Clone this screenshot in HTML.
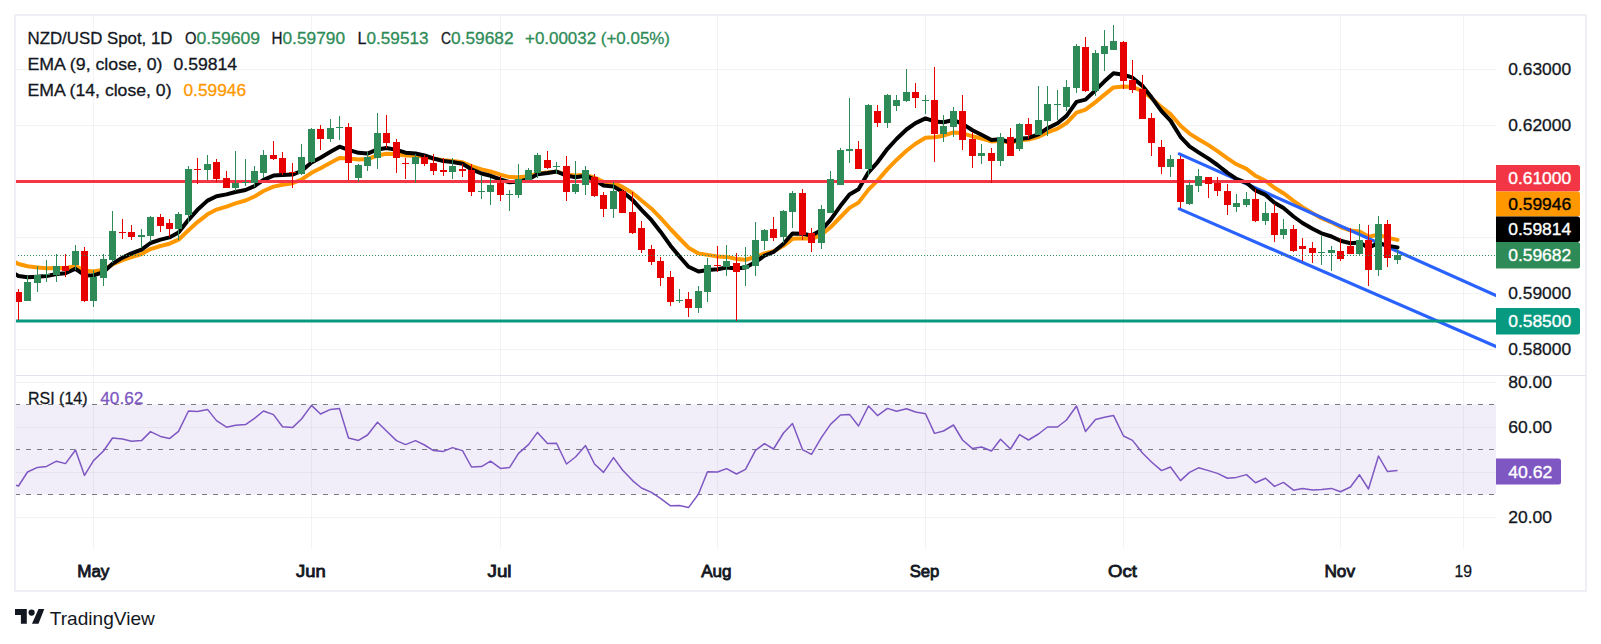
<!DOCTYPE html>
<html><head><meta charset="utf-8"><title>NZD/USD chart</title>
<style>html,body{margin:0;padding:0;background:#fff}svg{display:block}</style>
</head><body>
<svg width="1601" height="644" viewBox="0 0 1601 644" font-family="'Liberation Sans', sans-serif" shape-rendering="auto">
<rect width="1601" height="644" fill="#fff"/>
<rect x="93.0" y="16" width="1" height="533" fill="#2a2e39" fill-opacity="0.06"/>
<rect x="311.0" y="16" width="1" height="533" fill="#2a2e39" fill-opacity="0.06"/>
<rect x="500.0" y="16" width="1" height="533" fill="#2a2e39" fill-opacity="0.06"/>
<rect x="717.0" y="16" width="1" height="533" fill="#2a2e39" fill-opacity="0.06"/>
<rect x="925.0" y="16" width="1" height="533" fill="#2a2e39" fill-opacity="0.06"/>
<rect x="1123.0" y="16" width="1" height="533" fill="#2a2e39" fill-opacity="0.06"/>
<rect x="1340.0" y="16" width="1" height="533" fill="#2a2e39" fill-opacity="0.06"/>
<rect x="1463.0" y="16" width="1" height="533" fill="#2a2e39" fill-opacity="0.06"/>
<rect x="16" y="69" width="1480" height="1" fill="#2a2e39" fill-opacity="0.06"/>
<rect x="16" y="125" width="1480" height="1" fill="#2a2e39" fill-opacity="0.06"/>
<rect x="16" y="181" width="1480" height="1" fill="#2a2e39" fill-opacity="0.06"/>
<rect x="16" y="237" width="1480" height="1" fill="#2a2e39" fill-opacity="0.06"/>
<rect x="16" y="293" width="1480" height="1" fill="#2a2e39" fill-opacity="0.06"/>
<rect x="16" y="349" width="1480" height="1" fill="#2a2e39" fill-opacity="0.06"/>
<rect x="16" y="382" width="1480" height="1" fill="#2a2e39" fill-opacity="0.06"/>
<rect x="16" y="427" width="1480" height="1" fill="#2a2e39" fill-opacity="0.06"/>
<rect x="16" y="472" width="1480" height="1" fill="#2a2e39" fill-opacity="0.06"/>
<rect x="16" y="517" width="1480" height="1" fill="#2a2e39" fill-opacity="0.06"/>
<rect x="16" y="404.5" width="1480" height="90" fill="#7e57c2" fill-opacity="0.1"/>
<path d="M15 404.5H1496" stroke="#787b86" stroke-width="1" stroke-dasharray="5 6" fill="none"/>
<path d="M15 449.5H1496" stroke="#787b86" stroke-width="1" stroke-dasharray="5 6" fill="none"/>
<path d="M15 494.5H1496" stroke="#787b86" stroke-width="1" stroke-dasharray="5 6" fill="none"/>
<clipPath id="cm"><rect x="16" y="16" width="1480" height="359"/></clipPath>
<clipPath id="cr"><rect x="16" y="376" width="1480" height="173"/></clipPath>
<g clip-path="url(#cm)" fill="none" stroke-linejoin="round" stroke-linecap="round">
<path d="M8.5 258.5 L18.5 264.0 L27.5 266.3 L37.5 267.4 L46.5 268.3 L56.5 267.9 L65.5 268.3 L75.5 265.9 L84.5 270.6 L93.5 271.4 L103.5 269.7 L112.5 264.5 L122.5 260.2 L131.5 257.1 L141.5 254.1 L150.5 249.1 L160.5 246.0 L169.5 243.7 L178.5 239.7 L188.5 230.2 L197.5 222.1 L207.5 214.3 L216.5 209.6 L226.5 206.6 L235.5 203.4 L245.5 200.5 L254.5 196.5 L263.5 191.0 L273.5 186.6 L282.5 184.8 L292.5 183.2 L301.5 179.6 L311.5 172.8 L320.5 168.2 L330.5 162.8 L339.5 158.0 L348.5 158.6 L358.5 159.4 L367.5 159.0 L377.5 155.5 L386.5 153.8 L396.5 154.3 L405.5 155.5 L415.5 155.7 L424.5 156.8 L433.5 158.6 L443.5 160.3 L452.5 161.0 L462.5 162.3 L471.5 166.2 L481.5 169.4 L490.5 171.5 L500.5 174.6 L509.5 177.1 L518.5 177.3 L528.5 176.3 L537.5 173.4 L547.5 172.6 L556.5 171.7 L566.5 174.4 L575.5 175.6 L585.5 174.8 L594.5 177.6 L603.5 181.7 L613.5 182.9 L622.5 186.9 L632.5 193.0 L641.5 200.5 L651.5 208.7 L660.5 217.9 L670.5 229.0 L679.5 238.5 L688.5 247.7 L698.5 253.4 L707.5 254.9 L717.5 256.4 L726.5 256.9 L736.5 258.9 L745.5 259.7 L755.5 257.0 L764.5 253.4 L773.5 251.3 L783.5 245.8 L792.5 238.8 L802.5 238.2 L811.5 238.8 L821.5 234.8 L830.5 227.3 L840.5 217.0 L849.5 207.9 L858.5 202.6 L868.5 189.6 L877.5 180.6 L887.5 169.1 L896.5 159.9 L906.5 150.8 L915.5 143.7 L925.5 137.8 L934.5 137.2 L943.5 135.7 L953.5 132.4 L962.5 133.3 L972.5 136.3 L981.5 138.5 L991.5 141.4 L1000.5 140.8 L1010.5 142.8 L1019.5 140.2 L1028.5 139.5 L1038.5 136.8 L1047.5 132.4 L1057.5 128.6 L1066.5 123.0 L1076.5 112.7 L1085.5 109.7 L1095.5 102.1 L1104.5 94.6 L1113.5 87.4 L1123.5 86.5 L1132.5 86.9 L1142.5 91.2 L1151.5 98.0 L1161.5 107.2 L1170.5 114.1 L1180.5 125.7 L1189.5 133.6 L1198.5 139.2 L1208.5 145.1 L1217.5 151.2 L1227.5 158.3 L1236.5 164.3 L1246.5 168.9 L1255.5 175.8 L1265.5 180.7 L1274.5 187.8 L1283.5 193.2 L1293.5 200.8 L1302.5 207.2 L1312.5 213.1 L1321.5 218.2 L1331.5 222.3 L1340.5 227.1 L1350.5 230.5 L1359.5 231.6 L1368.5 236.6 L1378.5 234.8 L1387.5 237.7 L1397.5 239.9" stroke="#ff9800" stroke-width="4"/>
<path d="M1179.3 153.9L1497 295.9" stroke="#2962ff" stroke-width="3.2"/>
<path d="M1179.3 208.9L1497 346.9" stroke="#2962ff" stroke-width="3.2"/>
<path d="M8.5 270.0 L18.5 276.0 L27.5 277.2 L37.5 276.7 L46.5 276.1 L56.5 274.0 L65.5 273.3 L75.5 268.8 L84.5 275.2 L93.5 275.4 L103.5 272.1 L112.5 263.8 L122.5 257.6 L131.5 253.4 L141.5 249.6 L150.5 243.0 L160.5 239.6 L169.5 237.4 L178.5 232.6 L188.5 219.8 L197.5 209.8 L207.5 200.6 L216.5 196.2 L226.5 194.4 L235.5 192.0 L245.5 190.0 L254.5 186.1 L263.5 179.8 L273.5 175.6 L282.5 175.0 L292.5 174.6 L301.5 171.0 L311.5 162.5 L320.5 157.7 L330.5 151.7 L339.5 146.7 L348.5 149.8 L358.5 152.8 L367.5 153.6 L377.5 149.4 L386.5 148.0 L396.5 149.9 L405.5 152.7 L415.5 153.5 L424.5 155.5 L433.5 158.5 L443.5 161.1 L452.5 162.0 L462.5 163.7 L471.5 169.3 L481.5 173.5 L490.5 175.8 L500.5 179.5 L509.5 182.3 L518.5 181.6 L528.5 179.2 L537.5 174.3 L547.5 173.0 L556.5 171.5 L566.5 175.6 L575.5 177.2 L585.5 175.7 L594.5 179.7 L603.5 185.5 L613.5 186.5 L622.5 191.7 L632.5 199.9 L641.5 209.8 L651.5 220.2 L660.5 231.7 L670.5 245.7 L679.5 256.5 L688.5 266.7 L698.5 271.5 L707.5 270.1 L717.5 269.2 L726.5 267.5 L736.5 268.4 L745.5 267.6 L755.5 262.0 L764.5 255.6 L773.5 252.0 L783.5 243.7 L792.5 233.5 L802.5 233.7 L811.5 235.5 L821.5 230.1 L830.5 219.9 L840.5 205.8 L849.5 194.4 L858.5 189.3 L868.5 172.3 L877.5 162.3 L887.5 148.8 L896.5 139.0 L906.5 129.5 L915.5 123.1 L925.5 118.4 L934.5 121.4 L943.5 122.3 L953.5 120.0 L962.5 123.9 L972.5 130.2 L981.5 134.7 L991.5 139.9 L1000.5 139.3 L1010.5 142.5 L1019.5 138.8 L1028.5 137.9 L1038.5 134.3 L1047.5 128.2 L1057.5 123.3 L1066.5 115.9 L1076.5 101.9 L1085.5 99.6 L1095.5 90.2 L1104.5 81.3 L1113.5 73.2 L1123.5 74.7 L1132.5 77.7 L1142.5 85.9 L1151.5 97.3 L1161.5 111.1 L1170.5 120.6 L1180.5 136.8 L1189.5 146.4 L1198.5 152.3 L1208.5 158.6 L1217.5 165.0 L1227.5 172.9 L1236.5 178.9 L1246.5 182.8 L1255.5 190.4 L1265.5 194.9 L1274.5 202.8 L1283.5 208.0 L1293.5 216.5 L1302.5 223.0 L1312.5 228.8 L1321.5 233.3 L1331.5 236.5 L1340.5 240.8 L1350.5 243.3 L1359.5 242.5 L1368.5 247.8 L1378.5 242.9 L1387.5 245.7 L1397.5 247.4" stroke="#000" stroke-width="4"/>
</g>
<rect x="16" y="180" width="1480" height="3" fill="#f23645"/>
<rect x="16" y="319.5" width="1480" height="3" fill="#089981"/>
<g clip-path="url(#cm)" shape-rendering="crispEdges">
<rect x="18" y="289" width="1" height="31" fill="#e60000"/>
<rect x="15" y="292" width="7" height="10" fill="#e60000"/>
<rect x="27" y="276" width="1" height="25" fill="#2e8b57"/>
<rect x="24" y="282" width="7" height="19" fill="#2e8b57"/>
<rect x="37" y="266" width="1" height="26" fill="#2e8b57"/>
<rect x="34" y="275" width="7" height="8" fill="#2e8b57"/>
<rect x="46" y="260" width="1" height="22" fill="#2e8b57"/>
<rect x="43" y="274" width="7" height="1" fill="#2e8b57"/>
<rect x="56" y="254" width="1" height="28" fill="#2e8b57"/>
<rect x="53" y="266" width="7" height="9" fill="#2e8b57"/>
<rect x="65" y="254" width="1" height="23" fill="#e60000"/>
<rect x="62" y="266" width="7" height="5" fill="#e60000"/>
<rect x="75" y="245" width="1" height="25" fill="#2e8b57"/>
<rect x="72" y="251" width="7" height="14" fill="#2e8b57"/>
<rect x="84" y="247" width="1" height="55" fill="#e60000"/>
<rect x="81" y="251" width="7" height="50" fill="#e60000"/>
<rect x="93" y="270" width="1" height="37" fill="#2e8b57"/>
<rect x="90" y="277" width="7" height="24" fill="#2e8b57"/>
<rect x="103" y="254" width="1" height="32" fill="#2e8b57"/>
<rect x="100" y="259" width="7" height="19" fill="#2e8b57"/>
<rect x="112" y="211" width="1" height="52" fill="#2e8b57"/>
<rect x="109" y="231" width="7" height="29" fill="#2e8b57"/>
<rect x="122" y="219" width="1" height="20" fill="#e60000"/>
<rect x="119" y="232" width="7" height="1" fill="#e60000"/>
<rect x="131" y="225" width="1" height="15" fill="#e60000"/>
<rect x="128" y="232" width="7" height="5" fill="#e60000"/>
<rect x="141" y="229" width="1" height="19" fill="#2e8b57"/>
<rect x="138" y="235" width="7" height="2" fill="#2e8b57"/>
<rect x="150" y="216" width="1" height="26" fill="#2e8b57"/>
<rect x="147" y="217" width="7" height="19" fill="#2e8b57"/>
<rect x="160" y="214" width="1" height="18" fill="#e60000"/>
<rect x="157" y="217" width="7" height="9" fill="#e60000"/>
<rect x="169" y="219" width="1" height="18" fill="#e60000"/>
<rect x="166" y="223" width="7" height="6" fill="#e60000"/>
<rect x="178" y="212" width="1" height="28" fill="#2e8b57"/>
<rect x="175" y="214" width="7" height="15" fill="#2e8b57"/>
<rect x="188" y="166" width="1" height="57" fill="#2e8b57"/>
<rect x="185" y="169" width="7" height="46" fill="#2e8b57"/>
<rect x="197" y="158" width="1" height="26" fill="#e60000"/>
<rect x="194" y="169" width="7" height="1" fill="#e60000"/>
<rect x="207" y="155" width="1" height="25" fill="#2e8b57"/>
<rect x="204" y="164" width="7" height="6" fill="#2e8b57"/>
<rect x="216" y="159" width="1" height="23" fill="#e60000"/>
<rect x="213" y="162" width="7" height="17" fill="#e60000"/>
<rect x="226" y="171" width="1" height="17" fill="#e60000"/>
<rect x="223" y="178" width="7" height="10" fill="#e60000"/>
<rect x="235" y="151" width="1" height="40" fill="#2e8b57"/>
<rect x="232" y="183" width="7" height="5" fill="#2e8b57"/>
<rect x="245" y="159" width="1" height="27" fill="#2e8b57"/>
<rect x="242" y="182" width="7" height="1" fill="#2e8b57"/>
<rect x="254" y="166" width="1" height="21" fill="#2e8b57"/>
<rect x="251" y="171" width="7" height="12" fill="#2e8b57"/>
<rect x="263" y="150" width="1" height="28" fill="#2e8b57"/>
<rect x="260" y="155" width="7" height="18" fill="#2e8b57"/>
<rect x="273" y="141" width="1" height="19" fill="#e60000"/>
<rect x="270" y="155" width="7" height="4" fill="#e60000"/>
<rect x="282" y="152" width="1" height="23" fill="#e60000"/>
<rect x="279" y="158" width="7" height="15" fill="#e60000"/>
<rect x="292" y="163" width="1" height="25" fill="#e60000"/>
<rect x="289" y="172" width="7" height="1" fill="#e60000"/>
<rect x="301" y="144" width="1" height="31" fill="#2e8b57"/>
<rect x="298" y="157" width="7" height="17" fill="#2e8b57"/>
<rect x="311" y="128" width="1" height="35" fill="#2e8b57"/>
<rect x="308" y="129" width="7" height="33" fill="#2e8b57"/>
<rect x="320" y="125" width="1" height="25" fill="#e60000"/>
<rect x="317" y="129" width="7" height="10" fill="#e60000"/>
<rect x="330" y="119" width="1" height="23" fill="#2e8b57"/>
<rect x="327" y="128" width="7" height="11" fill="#2e8b57"/>
<rect x="339" y="116" width="1" height="24" fill="#2e8b57"/>
<rect x="336" y="127" width="7" height="1" fill="#2e8b57"/>
<rect x="348" y="123" width="1" height="57" fill="#e60000"/>
<rect x="345" y="127" width="7" height="36" fill="#e60000"/>
<rect x="358" y="164" width="1" height="18" fill="#2e8b57"/>
<rect x="355" y="165" width="7" height="13" fill="#2e8b57"/>
<rect x="367" y="152" width="1" height="19" fill="#2e8b57"/>
<rect x="364" y="157" width="7" height="9" fill="#2e8b57"/>
<rect x="377" y="113" width="1" height="56" fill="#2e8b57"/>
<rect x="374" y="133" width="7" height="25" fill="#2e8b57"/>
<rect x="386" y="115" width="1" height="33" fill="#e60000"/>
<rect x="383" y="133" width="7" height="10" fill="#e60000"/>
<rect x="396" y="139" width="1" height="34" fill="#e60000"/>
<rect x="393" y="142" width="7" height="16" fill="#e60000"/>
<rect x="405" y="158" width="1" height="21" fill="#e60000"/>
<rect x="402" y="163" width="7" height="1" fill="#e60000"/>
<rect x="415" y="154" width="1" height="29" fill="#2e8b57"/>
<rect x="412" y="157" width="7" height="7" fill="#2e8b57"/>
<rect x="424" y="155" width="1" height="11" fill="#e60000"/>
<rect x="421" y="157" width="7" height="7" fill="#e60000"/>
<rect x="433" y="154" width="1" height="21" fill="#e60000"/>
<rect x="430" y="163" width="7" height="8" fill="#e60000"/>
<rect x="443" y="158" width="1" height="18" fill="#e60000"/>
<rect x="440" y="170" width="7" height="2" fill="#e60000"/>
<rect x="452" y="158" width="1" height="21" fill="#2e8b57"/>
<rect x="449" y="166" width="7" height="6" fill="#2e8b57"/>
<rect x="462" y="164" width="1" height="13" fill="#e60000"/>
<rect x="459" y="169" width="7" height="2" fill="#e60000"/>
<rect x="471" y="164" width="1" height="32" fill="#e60000"/>
<rect x="468" y="170" width="7" height="22" fill="#e60000"/>
<rect x="481" y="176" width="1" height="23" fill="#2e8b57"/>
<rect x="478" y="191" width="7" height="1" fill="#2e8b57"/>
<rect x="490" y="178" width="1" height="27" fill="#2e8b57"/>
<rect x="487" y="185" width="7" height="7" fill="#2e8b57"/>
<rect x="500" y="176" width="1" height="25" fill="#e60000"/>
<rect x="497" y="183" width="7" height="12" fill="#e60000"/>
<rect x="509" y="190" width="1" height="21" fill="#2e8b57"/>
<rect x="506" y="194" width="7" height="1" fill="#2e8b57"/>
<rect x="518" y="164" width="1" height="34" fill="#2e8b57"/>
<rect x="515" y="179" width="7" height="16" fill="#2e8b57"/>
<rect x="528" y="168" width="1" height="12" fill="#2e8b57"/>
<rect x="525" y="170" width="7" height="10" fill="#2e8b57"/>
<rect x="537" y="153" width="1" height="25" fill="#2e8b57"/>
<rect x="534" y="155" width="7" height="18" fill="#2e8b57"/>
<rect x="547" y="151" width="1" height="18" fill="#e60000"/>
<rect x="544" y="160" width="7" height="8" fill="#e60000"/>
<rect x="556" y="162" width="1" height="12" fill="#2e8b57"/>
<rect x="553" y="166" width="7" height="1" fill="#2e8b57"/>
<rect x="566" y="156" width="1" height="45" fill="#e60000"/>
<rect x="563" y="166" width="7" height="26" fill="#e60000"/>
<rect x="575" y="161" width="1" height="33" fill="#2e8b57"/>
<rect x="572" y="184" width="7" height="8" fill="#2e8b57"/>
<rect x="585" y="166" width="1" height="29" fill="#2e8b57"/>
<rect x="582" y="170" width="7" height="15" fill="#2e8b57"/>
<rect x="594" y="174" width="1" height="23" fill="#e60000"/>
<rect x="591" y="177" width="7" height="19" fill="#e60000"/>
<rect x="603" y="192" width="1" height="25" fill="#e60000"/>
<rect x="600" y="195" width="7" height="14" fill="#e60000"/>
<rect x="613" y="182" width="1" height="36" fill="#2e8b57"/>
<rect x="610" y="191" width="7" height="18" fill="#2e8b57"/>
<rect x="622" y="189" width="1" height="24" fill="#e60000"/>
<rect x="619" y="191" width="7" height="22" fill="#e60000"/>
<rect x="632" y="192" width="1" height="42" fill="#e60000"/>
<rect x="629" y="212" width="7" height="21" fill="#e60000"/>
<rect x="641" y="221" width="1" height="32" fill="#e60000"/>
<rect x="638" y="228" width="7" height="22" fill="#e60000"/>
<rect x="651" y="245" width="1" height="20" fill="#e60000"/>
<rect x="648" y="249" width="7" height="13" fill="#e60000"/>
<rect x="660" y="257" width="1" height="29" fill="#e60000"/>
<rect x="657" y="261" width="7" height="17" fill="#e60000"/>
<rect x="670" y="271" width="1" height="35" fill="#e60000"/>
<rect x="667" y="277" width="7" height="25" fill="#e60000"/>
<rect x="679" y="289" width="1" height="14" fill="#2e8b57"/>
<rect x="676" y="300" width="7" height="1" fill="#2e8b57"/>
<rect x="688" y="292" width="1" height="25" fill="#e60000"/>
<rect x="685" y="299" width="7" height="9" fill="#e60000"/>
<rect x="698" y="286" width="1" height="27" fill="#2e8b57"/>
<rect x="695" y="291" width="7" height="17" fill="#2e8b57"/>
<rect x="707" y="258" width="1" height="44" fill="#2e8b57"/>
<rect x="704" y="265" width="7" height="27" fill="#2e8b57"/>
<rect x="717" y="246" width="1" height="26" fill="#e60000"/>
<rect x="714" y="265" width="7" height="1" fill="#e60000"/>
<rect x="726" y="245" width="1" height="31" fill="#2e8b57"/>
<rect x="723" y="261" width="7" height="6" fill="#2e8b57"/>
<rect x="736" y="253" width="1" height="68" fill="#e60000"/>
<rect x="733" y="263" width="7" height="9" fill="#e60000"/>
<rect x="745" y="247" width="1" height="39" fill="#2e8b57"/>
<rect x="742" y="265" width="7" height="4" fill="#2e8b57"/>
<rect x="755" y="222" width="1" height="54" fill="#2e8b57"/>
<rect x="752" y="240" width="7" height="26" fill="#2e8b57"/>
<rect x="764" y="229" width="1" height="21" fill="#2e8b57"/>
<rect x="761" y="230" width="7" height="11" fill="#2e8b57"/>
<rect x="773" y="217" width="1" height="24" fill="#e60000"/>
<rect x="770" y="229" width="7" height="9" fill="#e60000"/>
<rect x="783" y="210" width="1" height="33" fill="#2e8b57"/>
<rect x="780" y="211" width="7" height="26" fill="#2e8b57"/>
<rect x="792" y="191" width="1" height="37" fill="#2e8b57"/>
<rect x="789" y="193" width="7" height="19" fill="#2e8b57"/>
<rect x="802" y="189" width="1" height="51" fill="#e60000"/>
<rect x="799" y="193" width="7" height="42" fill="#e60000"/>
<rect x="811" y="228" width="1" height="24" fill="#e60000"/>
<rect x="808" y="233" width="7" height="10" fill="#e60000"/>
<rect x="821" y="205" width="1" height="44" fill="#2e8b57"/>
<rect x="818" y="209" width="7" height="34" fill="#2e8b57"/>
<rect x="830" y="171" width="1" height="42" fill="#2e8b57"/>
<rect x="827" y="179" width="7" height="34" fill="#2e8b57"/>
<rect x="840" y="148" width="1" height="37" fill="#2e8b57"/>
<rect x="837" y="150" width="7" height="35" fill="#2e8b57"/>
<rect x="849" y="98" width="1" height="65" fill="#2e8b57"/>
<rect x="846" y="149" width="7" height="2" fill="#2e8b57"/>
<rect x="858" y="141" width="1" height="28" fill="#e60000"/>
<rect x="855" y="149" width="7" height="20" fill="#e60000"/>
<rect x="868" y="104" width="1" height="72" fill="#2e8b57"/>
<rect x="865" y="105" width="7" height="64" fill="#2e8b57"/>
<rect x="877" y="105" width="1" height="22" fill="#e60000"/>
<rect x="874" y="111" width="7" height="12" fill="#e60000"/>
<rect x="887" y="94" width="1" height="34" fill="#2e8b57"/>
<rect x="884" y="95" width="7" height="28" fill="#2e8b57"/>
<rect x="896" y="95" width="1" height="16" fill="#2e8b57"/>
<rect x="893" y="100" width="7" height="6" fill="#2e8b57"/>
<rect x="906" y="69" width="1" height="33" fill="#2e8b57"/>
<rect x="903" y="92" width="7" height="9" fill="#2e8b57"/>
<rect x="915" y="83" width="1" height="25" fill="#e60000"/>
<rect x="912" y="92" width="7" height="6" fill="#e60000"/>
<rect x="925" y="95" width="1" height="19" fill="#2e8b57"/>
<rect x="922" y="100" width="7" height="1" fill="#2e8b57"/>
<rect x="934" y="67" width="1" height="95" fill="#e60000"/>
<rect x="931" y="100" width="7" height="34" fill="#e60000"/>
<rect x="943" y="115" width="1" height="27" fill="#2e8b57"/>
<rect x="940" y="126" width="7" height="8" fill="#2e8b57"/>
<rect x="953" y="107" width="1" height="30" fill="#2e8b57"/>
<rect x="950" y="111" width="7" height="16" fill="#2e8b57"/>
<rect x="962" y="95" width="1" height="55" fill="#e60000"/>
<rect x="959" y="111" width="7" height="29" fill="#e60000"/>
<rect x="972" y="132" width="1" height="36" fill="#e60000"/>
<rect x="969" y="139" width="7" height="17" fill="#e60000"/>
<rect x="981" y="144" width="1" height="20" fill="#2e8b57"/>
<rect x="978" y="153" width="7" height="3" fill="#2e8b57"/>
<rect x="991" y="148" width="1" height="35" fill="#e60000"/>
<rect x="988" y="153" width="7" height="8" fill="#e60000"/>
<rect x="1000" y="133" width="1" height="33" fill="#2e8b57"/>
<rect x="997" y="137" width="7" height="24" fill="#2e8b57"/>
<rect x="1010" y="128" width="1" height="28" fill="#e60000"/>
<rect x="1007" y="137" width="7" height="19" fill="#e60000"/>
<rect x="1019" y="123" width="1" height="28" fill="#2e8b57"/>
<rect x="1016" y="124" width="7" height="25" fill="#2e8b57"/>
<rect x="1028" y="118" width="1" height="21" fill="#e60000"/>
<rect x="1025" y="124" width="7" height="11" fill="#e60000"/>
<rect x="1038" y="86" width="1" height="49" fill="#2e8b57"/>
<rect x="1035" y="120" width="7" height="15" fill="#2e8b57"/>
<rect x="1047" y="86" width="1" height="50" fill="#2e8b57"/>
<rect x="1044" y="104" width="7" height="17" fill="#2e8b57"/>
<rect x="1057" y="90" width="1" height="30" fill="#2e8b57"/>
<rect x="1054" y="104" width="7" height="1" fill="#2e8b57"/>
<rect x="1066" y="80" width="1" height="31" fill="#2e8b57"/>
<rect x="1063" y="87" width="7" height="20" fill="#2e8b57"/>
<rect x="1076" y="44" width="1" height="49" fill="#2e8b57"/>
<rect x="1073" y="46" width="7" height="42" fill="#2e8b57"/>
<rect x="1085" y="37" width="1" height="55" fill="#e60000"/>
<rect x="1082" y="47" width="7" height="44" fill="#e60000"/>
<rect x="1095" y="50" width="1" height="46" fill="#2e8b57"/>
<rect x="1092" y="53" width="7" height="38" fill="#2e8b57"/>
<rect x="1104" y="30" width="1" height="41" fill="#2e8b57"/>
<rect x="1101" y="46" width="7" height="8" fill="#2e8b57"/>
<rect x="1113" y="25" width="1" height="25" fill="#2e8b57"/>
<rect x="1110" y="41" width="7" height="9" fill="#2e8b57"/>
<rect x="1123" y="41" width="1" height="48" fill="#e60000"/>
<rect x="1120" y="42" width="7" height="39" fill="#e60000"/>
<rect x="1132" y="60" width="1" height="33" fill="#e60000"/>
<rect x="1129" y="80" width="7" height="10" fill="#e60000"/>
<rect x="1142" y="75" width="1" height="44" fill="#e60000"/>
<rect x="1139" y="89" width="7" height="30" fill="#e60000"/>
<rect x="1151" y="113" width="1" height="43" fill="#e60000"/>
<rect x="1148" y="118" width="7" height="25" fill="#e60000"/>
<rect x="1161" y="140" width="1" height="34" fill="#e60000"/>
<rect x="1158" y="147" width="7" height="20" fill="#e60000"/>
<rect x="1170" y="155" width="1" height="22" fill="#2e8b57"/>
<rect x="1167" y="159" width="7" height="8" fill="#2e8b57"/>
<rect x="1180" y="156" width="1" height="52" fill="#e60000"/>
<rect x="1177" y="159" width="7" height="43" fill="#e60000"/>
<rect x="1189" y="182" width="1" height="23" fill="#2e8b57"/>
<rect x="1186" y="185" width="7" height="19" fill="#2e8b57"/>
<rect x="1198" y="169" width="1" height="23" fill="#2e8b57"/>
<rect x="1195" y="176" width="7" height="10" fill="#2e8b57"/>
<rect x="1208" y="177" width="1" height="21" fill="#e60000"/>
<rect x="1205" y="177" width="7" height="7" fill="#e60000"/>
<rect x="1217" y="177" width="1" height="19" fill="#e60000"/>
<rect x="1214" y="183" width="7" height="8" fill="#e60000"/>
<rect x="1227" y="184" width="1" height="31" fill="#e60000"/>
<rect x="1224" y="191" width="7" height="14" fill="#e60000"/>
<rect x="1236" y="194" width="1" height="18" fill="#2e8b57"/>
<rect x="1233" y="203" width="7" height="4" fill="#2e8b57"/>
<rect x="1246" y="192" width="1" height="15" fill="#2e8b57"/>
<rect x="1243" y="199" width="7" height="6" fill="#2e8b57"/>
<rect x="1255" y="189" width="1" height="33" fill="#e60000"/>
<rect x="1252" y="199" width="7" height="22" fill="#e60000"/>
<rect x="1265" y="202" width="1" height="23" fill="#2e8b57"/>
<rect x="1262" y="213" width="7" height="8" fill="#2e8b57"/>
<rect x="1274" y="204" width="1" height="38" fill="#e60000"/>
<rect x="1271" y="213" width="7" height="22" fill="#e60000"/>
<rect x="1283" y="219" width="1" height="20" fill="#2e8b57"/>
<rect x="1280" y="229" width="7" height="6" fill="#2e8b57"/>
<rect x="1293" y="225" width="1" height="27" fill="#e60000"/>
<rect x="1290" y="229" width="7" height="22" fill="#e60000"/>
<rect x="1302" y="238" width="1" height="23" fill="#e60000"/>
<rect x="1299" y="246" width="7" height="3" fill="#e60000"/>
<rect x="1312" y="242" width="1" height="21" fill="#e60000"/>
<rect x="1309" y="248" width="7" height="5" fill="#e60000"/>
<rect x="1321" y="236" width="1" height="29" fill="#2e8b57"/>
<rect x="1318" y="252" width="7" height="1" fill="#2e8b57"/>
<rect x="1331" y="246" width="1" height="25" fill="#2e8b57"/>
<rect x="1328" y="250" width="7" height="3" fill="#2e8b57"/>
<rect x="1340" y="238" width="1" height="23" fill="#e60000"/>
<rect x="1337" y="251" width="7" height="8" fill="#e60000"/>
<rect x="1350" y="228" width="1" height="26" fill="#e60000"/>
<rect x="1347" y="246" width="7" height="8" fill="#e60000"/>
<rect x="1359" y="224" width="1" height="32" fill="#2e8b57"/>
<rect x="1356" y="240" width="7" height="14" fill="#2e8b57"/>
<rect x="1368" y="225" width="1" height="61" fill="#e60000"/>
<rect x="1365" y="240" width="7" height="30" fill="#e60000"/>
<rect x="1378" y="216" width="1" height="60" fill="#2e8b57"/>
<rect x="1375" y="224" width="7" height="46" fill="#2e8b57"/>
<rect x="1387" y="220" width="1" height="47" fill="#e60000"/>
<rect x="1384" y="224" width="7" height="34" fill="#e60000"/>
<rect x="1397" y="249" width="1" height="15" fill="#2e8b57"/>
<rect x="1394" y="255" width="7" height="5" fill="#2e8b57"/>
</g>
<path d="M15 255.5H1496" stroke="#2e8b57" stroke-width="1" stroke-dasharray="1 2" fill="none" shape-rendering="crispEdges"/>
<path d="M8.5 483.0 L18.5 486.0 L27.5 472.0 L37.5 467.4 L46.5 466.4 L56.5 461.2 L65.5 463.6 L75.5 450.0 L84.5 475.4 L93.5 460.6 L103.5 451.0 L112.5 438.0 L122.5 439.0 L131.5 441.2 L141.5 440.6 L150.5 431.6 L160.5 436.4 L169.5 438.6 L178.5 431.4 L188.5 411.0 L197.5 411.4 L207.5 409.4 L216.5 420.6 L226.5 427.2 L235.5 425.2 L245.5 424.6 L254.5 418.4 L263.5 411.0 L273.5 414.6 L282.5 426.8 L292.5 427.6 L301.5 419.0 L311.5 405.4 L320.5 414.0 L330.5 409.4 L339.5 408.6 L348.5 438.0 L358.5 440.4 L367.5 435.0 L377.5 422.2 L386.5 431.0 L396.5 440.6 L405.5 444.6 L415.5 440.6 L424.5 445.0 L433.5 450.6 L443.5 451.4 L452.5 447.6 L462.5 450.6 L471.5 467.0 L481.5 466.6 L490.5 461.2 L500.5 468.4 L509.5 467.6 L518.5 453.4 L528.5 444.6 L537.5 432.4 L547.5 443.6 L556.5 443.2 L566.5 464.0 L575.5 457.0 L585.5 445.6 L594.5 464.0 L603.5 472.4 L613.5 457.6 L622.5 470.0 L632.5 480.6 L641.5 488.0 L651.5 492.4 L660.5 498.4 L670.5 505.8 L679.5 505.6 L688.5 507.6 L698.5 494.0 L707.5 471.8 L717.5 472.0 L726.5 468.6 L736.5 474.0 L745.5 469.4 L755.5 450.4 L764.5 443.6 L773.5 449.0 L783.5 433.0 L792.5 423.6 L802.5 449.6 L811.5 454.4 L821.5 437.4 L830.5 424.4 L840.5 415.0 L849.5 414.4 L858.5 426.0 L868.5 406.0 L877.5 415.6 L887.5 408.4 L896.5 411.2 L906.5 408.8 L915.5 412.0 L925.5 413.8 L934.5 433.4 L943.5 431.0 L953.5 425.0 L962.5 440.0 L972.5 448.6 L981.5 447.0 L991.5 451.0 L1000.5 439.2 L1010.5 449.0 L1019.5 434.6 L1028.5 440.0 L1038.5 434.0 L1047.5 427.0 L1057.5 427.0 L1066.5 420.0 L1076.5 406.0 L1085.5 431.6 L1095.5 419.4 L1104.5 417.2 L1113.5 415.4 L1123.5 436.0 L1132.5 440.4 L1142.5 453.0 L1151.5 462.0 L1161.5 470.6 L1170.5 467.0 L1180.5 480.6 L1189.5 472.4 L1198.5 467.8 L1208.5 470.6 L1217.5 473.4 L1227.5 478.2 L1236.5 477.4 L1246.5 474.6 L1255.5 482.8 L1265.5 478.2 L1274.5 486.4 L1283.5 482.4 L1293.5 490.2 L1302.5 488.4 L1312.5 490.0 L1321.5 489.6 L1331.5 488.4 L1340.5 491.8 L1350.5 487.0 L1359.5 474.8 L1368.5 489.0 L1378.5 456.0 L1387.5 471.6 L1397.5 470.4" clip-path="url(#cr)" stroke="#7e57c2" stroke-width="1.5" fill="none" stroke-linejoin="round"/>
<rect x="15" y="15" width="1571" height="576" fill="none" stroke="#eef0f6" stroke-width="2"/>
<rect x="16" y="375" width="1570" height="1" fill="#e0e3eb"/>
<text x="27.5" y="43.7" font-size="17.3" fill="#131722" font-weight="normal" text-anchor="start" textLength="145" lengthAdjust="spacingAndGlyphs" stroke="#131722" stroke-width="0.3">NZD/USD Spot, 1D</text>
<text x="185" y="43.7" font-size="17.3" fill="#131722" font-weight="normal" text-anchor="start" textLength="11.5" lengthAdjust="spacingAndGlyphs" stroke="#131722" stroke-width="0.3">O</text>
<text x="196.5" y="43.7" font-size="17.3" fill="#2e8b57" font-weight="normal" text-anchor="start" textLength="63.5" lengthAdjust="spacingAndGlyphs" stroke="#2e8b57" stroke-width="0.3">0.59609</text>
<text x="271.5" y="43.7" font-size="17.3" fill="#131722" font-weight="normal" text-anchor="start" textLength="11" lengthAdjust="spacingAndGlyphs" stroke="#131722" stroke-width="0.3">H</text>
<text x="282.5" y="43.7" font-size="17.3" fill="#2e8b57" font-weight="normal" text-anchor="start" textLength="62.5" lengthAdjust="spacingAndGlyphs" stroke="#2e8b57" stroke-width="0.3">0.59790</text>
<text x="357.5" y="43.7" font-size="17.3" fill="#131722" font-weight="normal" text-anchor="start" textLength="9" lengthAdjust="spacingAndGlyphs" stroke="#131722" stroke-width="0.3">L</text>
<text x="366.5" y="43.7" font-size="17.3" fill="#2e8b57" font-weight="normal" text-anchor="start" textLength="62" lengthAdjust="spacingAndGlyphs" stroke="#2e8b57" stroke-width="0.3">0.59513</text>
<text x="441" y="43.7" font-size="17.3" fill="#131722" font-weight="normal" text-anchor="start" textLength="10" lengthAdjust="spacingAndGlyphs" stroke="#131722" stroke-width="0.3">C</text>
<text x="451" y="43.7" font-size="17.3" fill="#2e8b57" font-weight="normal" text-anchor="start" textLength="62.5" lengthAdjust="spacingAndGlyphs" stroke="#2e8b57" stroke-width="0.3">0.59682</text>
<text x="525" y="43.7" font-size="17.3" fill="#2e8b57" font-weight="normal" text-anchor="start" textLength="145" lengthAdjust="spacingAndGlyphs" stroke="#2e8b57" stroke-width="0.3">+0.00032 (+0.05%)</text>
<text x="27.5" y="69.7" font-size="17.3" fill="#131722" font-weight="normal" text-anchor="start" textLength="135" lengthAdjust="spacingAndGlyphs" stroke="#131722" stroke-width="0.3">EMA (9, close, 0)</text>
<text x="173.5" y="69.7" font-size="17.3" fill="#131722" font-weight="normal" text-anchor="start" textLength="63.5" lengthAdjust="spacingAndGlyphs" stroke="#131722" stroke-width="0.3">0.59814</text>
<text x="27.5" y="95.7" font-size="17.3" fill="#131722" font-weight="normal" text-anchor="start" textLength="144" lengthAdjust="spacingAndGlyphs" stroke="#131722" stroke-width="0.3">EMA (14, close, 0)</text>
<text x="183.5" y="95.7" font-size="17.3" fill="#ff9800" font-weight="normal" text-anchor="start" textLength="62.5" lengthAdjust="spacingAndGlyphs" stroke="#ff9800" stroke-width="0.3">0.59946</text>
<text x="28" y="404.1" font-size="17.3" fill="#131722" font-weight="normal" text-anchor="start" textLength="59.5" lengthAdjust="spacingAndGlyphs" stroke="#131722" stroke-width="0.3">RSI (14)</text>
<text x="100.3" y="404.1" font-size="17.3" fill="#7e57c2" font-weight="normal" text-anchor="start" textLength="43" lengthAdjust="spacingAndGlyphs" stroke="#7e57c2" stroke-width="0.3">40.62</text>
<text x="1508.2" y="75.4" font-size="17.3" fill="#131722" font-weight="normal" text-anchor="start" textLength="62.9" lengthAdjust="spacingAndGlyphs" stroke="#131722" stroke-width="0.3">0.63000</text>
<text x="1508.2" y="131.4" font-size="17.3" fill="#131722" font-weight="normal" text-anchor="start" textLength="62.9" lengthAdjust="spacingAndGlyphs" stroke="#131722" stroke-width="0.3">0.62000</text>
<text x="1508.2" y="299.4" font-size="17.3" fill="#131722" font-weight="normal" text-anchor="start" textLength="62.9" lengthAdjust="spacingAndGlyphs" stroke="#131722" stroke-width="0.3">0.59000</text>
<text x="1508.2" y="355.4" font-size="17.3" fill="#131722" font-weight="normal" text-anchor="start" textLength="62.9" lengthAdjust="spacingAndGlyphs" stroke="#131722" stroke-width="0.3">0.58000</text>
<text x="1508.2" y="388.4" font-size="17.3" fill="#131722" font-weight="normal" text-anchor="start" textLength="43.8" lengthAdjust="spacingAndGlyphs" stroke="#131722" stroke-width="0.3">80.00</text>
<text x="1508.2" y="433.4" font-size="17.3" fill="#131722" font-weight="normal" text-anchor="start" textLength="43.8" lengthAdjust="spacingAndGlyphs" stroke="#131722" stroke-width="0.3">60.00</text>
<text x="1508.2" y="523.4" font-size="17.3" fill="#131722" font-weight="normal" text-anchor="start" textLength="43.8" lengthAdjust="spacingAndGlyphs" stroke="#131722" stroke-width="0.3">20.00</text>
<path d="M1496 165H1577.5Q1580 165 1580 167.5V189.0Q1580 191.5 1577.5 191.5H1496Z" fill="#f23645"/>
<text x="1508.2" y="184.45" font-size="17.3" fill="#fff" font-weight="normal" text-anchor="start" textLength="63.0" lengthAdjust="spacingAndGlyphs" stroke="#fff" stroke-width="0.35">0.61000</text>
<path d="M1496 191.5H1577.5Q1580 191.5 1580 194.0V214.0Q1580 216.5 1577.5 216.5H1496Z" fill="#ff9800"/>
<text x="1508.2" y="210.2" font-size="17.3" fill="#000" font-weight="normal" text-anchor="start" textLength="63.0" lengthAdjust="spacingAndGlyphs" stroke="#000" stroke-width="0.35">0.59946</text>
<path d="M1496 216.5H1577.5Q1580 216.5 1580 219.0V239.5Q1580 242 1577.5 242H1496Z" fill="#000"/>
<text x="1508.2" y="235.45" font-size="17.3" fill="#fff" font-weight="normal" text-anchor="start" textLength="63.0" lengthAdjust="spacingAndGlyphs" stroke="#fff" stroke-width="0.35">0.59814</text>
<path d="M1496 242H1577.5Q1580 242 1580 244.5V266.0Q1580 268.5 1577.5 268.5H1496Z" fill="#2e8b57"/>
<text x="1508.2" y="261.45" font-size="17.3" fill="#fff" font-weight="normal" text-anchor="start" textLength="63.0" lengthAdjust="spacingAndGlyphs" stroke="#fff" stroke-width="0.35">0.59682</text>
<path d="M1496 308H1577.5Q1580 308 1580 310.5V332.0Q1580 334.5 1577.5 334.5H1496Z" fill="#089981"/>
<text x="1508.2" y="327.45" font-size="17.3" fill="#fff" font-weight="normal" text-anchor="start" textLength="63.0" lengthAdjust="spacingAndGlyphs" stroke="#fff" stroke-width="0.35">0.58500</text>
<path d="M1496 458.5H1558.5Q1561 458.5 1561 461.0V482.0Q1561 484.5 1558.5 484.5H1496Z" fill="#7e57c2"/>
<text x="1508.2" y="477.7" font-size="17.3" fill="#fff" font-weight="normal" text-anchor="start" textLength="44.0" lengthAdjust="spacingAndGlyphs" stroke="#fff" stroke-width="0.35">40.62</text>
<text x="93.3" y="576.8" font-size="17.3" fill="#131722" font-weight="normal" text-anchor="middle" textLength="32.2" lengthAdjust="spacingAndGlyphs" stroke="#131722" stroke-width="0.85">May</text>
<text x="310.8" y="576.8" font-size="17.3" fill="#131722" font-weight="normal" text-anchor="middle" textLength="29.7" lengthAdjust="spacingAndGlyphs" stroke="#131722" stroke-width="0.85">Jun</text>
<text x="499.5" y="576.8" font-size="17.3" fill="#131722" font-weight="normal" text-anchor="middle" textLength="24" lengthAdjust="spacingAndGlyphs" stroke="#131722" stroke-width="0.85">Jul</text>
<text x="716.4" y="576.8" font-size="17.3" fill="#131722" font-weight="normal" text-anchor="middle" textLength="30.3" lengthAdjust="spacingAndGlyphs" stroke="#131722" stroke-width="0.85">Aug</text>
<text x="924.5" y="576.8" font-size="17.3" fill="#131722" font-weight="normal" text-anchor="middle" textLength="29.7" lengthAdjust="spacingAndGlyphs" stroke="#131722" stroke-width="0.85">Sep</text>
<text x="1122.5" y="576.8" font-size="17.3" fill="#131722" font-weight="normal" text-anchor="middle" textLength="28.8" lengthAdjust="spacingAndGlyphs" stroke="#131722" stroke-width="0.85">Oct</text>
<text x="1339.7" y="576.8" font-size="17.3" fill="#131722" font-weight="normal" text-anchor="middle" textLength="30.6" lengthAdjust="spacingAndGlyphs" stroke="#131722" stroke-width="0.85">Nov</text>
<text x="1463.2" y="576.8" font-size="17.3" fill="#131722" font-weight="normal" text-anchor="middle" textLength="17.5" lengthAdjust="spacingAndGlyphs" stroke="#131722" stroke-width="0.3">19</text>
<g fill="#131722">
<path d="M15 609H26.8V623.8H20.9V614.9H15Z"/>
<circle cx="31.6" cy="612.6" r="3.1"/>
<path d="M38.5 609H44.3L38.5 623.8H32Z"/>
</g>
<text x="49.8" y="624.6" font-size="19" fill="#131722" font-weight="normal" text-anchor="start" textLength="105" lengthAdjust="spacingAndGlyphs" stroke="none">TradingView</text>
</svg>
</body></html>
